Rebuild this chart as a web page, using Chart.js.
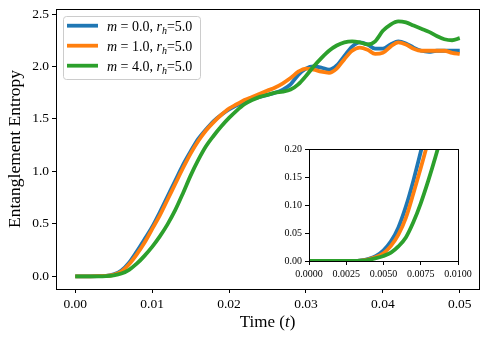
<!DOCTYPE html>
<html>
<head>
<meta charset="utf-8">
<script src="https://cdn.jsdelivr.net/npm/chart.js@4/dist/chart.umd.min.js"></script>
<style>
  html, body { margin: 0; padding: 0; background: #fff; }
  #wrap { position: relative; width: 488px; height: 342px; }
  #main { position: absolute; left: 0; top: 0; }
  #inset { position: absolute; left: 265px; top: 145px; }
</style>
</head>
<body>
<div id="wrap">
  <canvas id="main" width="488" height="342" style="width:488px;height:342px"></canvas>
  <canvas id="inset" width="215" height="135" style="width:215px;height:135px"></canvas>
</div>
<script>
// sample grid in time
const times = Array.from({ length: 51 }, (_, i) => +(i * 0.001).toFixed(3));
const insetTimes = Array.from({ length: 21 }, (_, i) => +(i * 0.0005).toFixed(4));

// legend parameters
const massValues = [0.0, 1.0, 4.0];
const horizonRadius = 5.0;

// entropy
const entropyM0 = [0, 0, 0, 0.001, 0.004, 0.018, 0.055, 0.13, 0.235, 0.35,
  0.47, 0.61, 0.76, 0.91, 1.06, 1.19, 1.31, 1.40, 1.48, 1.54,
  1.59, 1.63, 1.66, 1.69, 1.71, 1.73, 1.75, 1.78, 1.83, 1.92,
  1.98, 2.00, 1.99, 1.97, 2.01, 2.10, 2.19, 2.23, 2.21, 2.17,
  2.17, 2.21, 2.24, 2.22, 2.18, 2.15, 2.14, 2.15, 2.15, 2.15, 2.15];
const entropyM1 = [0, 0, 0, 0.001, 0.003, 0.014, 0.045, 0.115, 0.21, 0.32,
  0.45, 0.58, 0.73, 0.88, 1.03, 1.17, 1.29, 1.39, 1.47, 1.54,
  1.60, 1.64, 1.68, 1.71, 1.74, 1.77, 1.80, 1.84, 1.89, 1.95,
  1.98, 1.97, 1.95, 1.94, 1.98, 2.07, 2.15, 2.18, 2.16, 2.12,
  2.13, 2.19, 2.23, 2.21, 2.17, 2.15, 2.15, 2.15, 2.15, 2.13, 2.12];
const entropyM4 = [0, 0, 0, 0, 0.002, 0.009, 0.026, 0.062, 0.12, 0.195,
  0.28, 0.38, 0.495, 0.63, 0.79, 0.96, 1.11, 1.24, 1.34, 1.43,
  1.51, 1.58, 1.64, 1.68, 1.71, 1.73, 1.75, 1.76, 1.78, 1.83,
  1.91, 2.00, 2.08, 2.15, 2.20, 2.23, 2.24, 2.23, 2.21, 2.24,
  2.34, 2.40, 2.43, 2.42, 2.39, 2.36, 2.33, 2.29, 2.26, 2.25, 2.27];

// zoomed early times for the inset
const insetM0 = [0, 0, 0, 0, 0, 0, 0, 0.001, 0.004, 0.009, 0.019,
  0.035, 0.060, 0.097, 0.143, 0.195, 0.25, 0.31, 0.37, 0.43, 0.49];
const insetM1 = [0, 0, 0, 0, 0, 0, 0, 0.0008, 0.003, 0.007, 0.014,
  0.027, 0.047, 0.077, 0.12, 0.166, 0.215, 0.27, 0.33, 0.39, 0.45];
const insetM4 = [0, 0, 0, 0, 0, 0, 0, 0.0005, 0.002, 0.005, 0.009,
  0.015, 0.026, 0.042, 0.069, 0.103, 0.143, 0.187, 0.235, 0.285, 0.335];

const xTicks = [0, 0.01, 0.02, 0.03, 0.04, 0.05];
const yTicks = [0, 0.5, 1.0, 1.5, 2.0, 2.5];
const insetXTicks = [0, 0.0025, 0.005, 0.0075, 0.01];
const insetYTicks = [0, 0.05, 0.1, 0.15, 0.2];

const colors = ['#1f77b4', '#ff7f0e', '#2ca02c'];
const serif = '"Liberation Serif", "DejaVu Serif", serif';

Chart.defaults.color = '#000';
Chart.defaults.font.family = serif;

const toPoints = (xs, ys) => xs.map((x, i) => ({ x: x, y: ys[i] }));

function makeSets(xs, series) {
  return series.map((ys, i) => ({
    data: toPoints(xs, ys),
    borderColor: colors[i],
    borderWidth: 3.8,
    pointRadius: 0,
    cubicInterpolationMode: 'monotone',
    order: 3 - i
  }));
}

// draws the top and right spines too
const framePlugin = {
  id: 'frame',
  afterDraw(chart) {
    const { ctx, chartArea: a } = chart;
    ctx.save();
    ctx.strokeStyle = '#000';
    ctx.lineWidth = 1;
    ctx.strokeRect(Math.round(a.left) + 0.5, Math.round(a.top) + 0.5,
      Math.round(a.right - a.left), Math.round(a.bottom - a.top));
    ctx.restore();
  }
};

function drawParts(ctx, x, y, parts) {
  parts.forEach(p => {
    ctx.font = (p.italic ? 'italic ' : '') + p.size + 'px ' + serif;
    ctx.fillText(p.t, x, y + (p.sub || 0));
    x += ctx.measureText(p.t).width;
  });
  return x;
}

function partsWidth(ctx, parts) {
  let w = 0;
  parts.forEach(p => {
    ctx.font = (p.italic ? 'italic ' : '') + p.size + 'px ' + serif;
    w += ctx.measureText(p.t).width;
  });
  return w;
}

const textPlugin = {
  id: 'texts',
  afterDraw(chart) {
    const { ctx, chartArea: a } = chart;
    ctx.save();
    ctx.fillStyle = '#000';
    ctx.textBaseline = 'alphabetic';

    // x axis title with italic t
    const title = [
      { t: 'Time (', size: 17 },
      { t: 't', size: 17, italic: true },
      { t: ')', size: 17 }
    ];
    const w = partsWidth(ctx, title);
    drawParts(ctx, (a.left + a.right) / 2 - w / 2, 327, title);

    // legend box
    ctx.beginPath();
    ctx.roundRect(63.5, 16.5, 137, 63, 3);
    ctx.fillStyle = 'rgba(255,255,255,0.8)';
    ctx.fill();
    ctx.strokeStyle = '#cccccc';
    ctx.lineWidth = 1;
    ctx.stroke();

    massValues.forEach((m, i) => {
      const yc = 25.7 + i * 20;
      ctx.strokeStyle = colors[i];
      ctx.lineWidth = 3.8;
      ctx.beginPath();
      ctx.moveTo(67, yc);
      ctx.lineTo(98, yc);
      ctx.stroke();
      ctx.fillStyle = '#000';
      drawParts(ctx, 107, yc + 5, [
        { t: 'm', size: 14, italic: true },
        { t: ' = ' + m.toFixed(1) + ', ', size: 14 },
        { t: 'r', size: 14, italic: true },
        { t: 'h', size: 10, italic: true, sub: 3 },
        { t: '=' + horizonRadius.toFixed(1), size: 14 }
      ]);
    });
    ctx.restore();
  }
};

function axisOpts(ticks, digits, fontSize, min, max, fitSize, vertical) {
  return {
    type: 'linear',
    min: min,
    max: max,
    afterBuildTicks: s => { s.ticks = ticks.map(v => ({ value: v })); },
    afterFit: s => {
      if (vertical) s.width = fitSize; else s.height = fitSize;
      s.paddingTop = 0; s.paddingBottom = 0; s.paddingLeft = 0; s.paddingRight = 0;
    },
    ticks: {
      font: { size: fontSize, family: serif },
      padding: 3,
      maxRotation: 0,
      autoSkip: false,
      callback: v => Number(v).toFixed(digits)
    },
    grid: {
      drawOnChartArea: false,
      drawTicks: true,
      tickLength: 4,
      color: '#000',
      lineWidth: 1
    },
    border: { display: false }
  };
}

const mainY = axisOpts(yTicks, 1, 13.5, -0.121, 2.548, 56, true);
mainY.title = { display: true, text: 'Entanglement Entropy', font: { size: 17.5, family: serif }, padding: { top: 5, bottom: 4 } };

new Chart(document.getElementById('main'), {
  type: 'line',
  data: { datasets: makeSets(times, [entropyM0, entropyM1, entropyM4]) },
  options: {
    responsive: false,
    animation: false,
    layout: { padding: { top: 9, right: 9, left: 0, bottom: 0 } },
    plugins: { legend: { display: false }, tooltip: { enabled: false } },
    scales: {
      x: axisOpts(xTicks, 2, 13.5, -0.0025, 0.0525, 53, false),
      y: mainY
    }
  },
  plugins: [framePlugin, textPlugin]
});

const whiteBg = {
  id: 'whiteBg',
  beforeDraw(chart) {
    const { ctx, chartArea: a } = chart;
    ctx.save();
    ctx.fillStyle = '#fff';
    ctx.fillRect(a.left, a.top, a.right - a.left, a.bottom - a.top);
    ctx.restore();
  }
};

new Chart(document.getElementById('inset'), {
  type: 'line',
  data: { datasets: makeSets(insetTimes, [insetM0, insetM1, insetM4]) },
  options: {
    responsive: false,
    animation: false,
    layout: { padding: { top: 4, right: 22, left: 0, bottom: 0 } },
    plugins: { legend: { display: false }, tooltip: { enabled: false } },
    scales: {
      x: axisOpts(insetXTicks, 4, 10, 0, 0.01, 19, false),
      y: axisOpts(insetYTicks, 2, 10, 0, 0.2, 44, true)
    }
  },
  plugins: [whiteBg, framePlugin]
});
</script>
</body>
</html>
